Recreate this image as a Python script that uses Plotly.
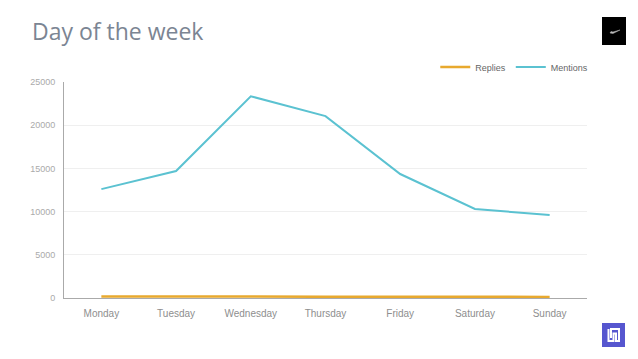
import plotly.graph_objects as go

days = ["Monday", "Tuesday", "Wednesday", "Thursday", "Friday", "Saturday", "Sunday"]
replies = [180, 200, 170, 140, 110, 120, 130]
mentions = [12600, 14700, 23350, 21050, 14350, 10300, 9600]
y_ticks = [0, 5000, 10000, 15000, 20000, 25000]

# plot area in pixels: x 64..587, y 82..298
PL, PR, PT, PB = 64, 587, 82, 298
PW, PH = PR - PL, PB - PT


def px(x):
    return (x - PL) / PW


def py(y):
    return (PB - y) / PH


def path(points):
    return "M " + " L ".join(f"{px(a):.5f},{py(b):.5f}" for a, b in points)


fig = go.Figure()
fig.add_trace(go.Scatter(x=days, y=replies, name="Replies", mode="lines",
                         line=dict(color="#e8a92e", width=2.5)))
fig.add_trace(go.Scatter(x=days, y=mentions, name="Mentions", mode="lines",
                         line=dict(color="#5bc2d1", width=2)))

fig.update_layout(
    width=638, height=359,
    margin=dict(l=PL, r=638 - PR, t=PT, b=359 - PB),
    paper_bgcolor="white", plot_bgcolor="white",
    showlegend=True,
    legend=dict(orientation="h", x=1.012, xanchor="right", y=py(67), yanchor="middle",
                font=dict(family="Liberation Sans, Arial", size=9, color="#666"),
                itemwidth=30, bgcolor="rgba(0,0,0,0)"),
    title=dict(text="Day of the week", x=32 / 638, xanchor="left", y=1 - 32 / 359, yanchor="middle",
               font=dict(family="Open Sans", size=23, color="#7b8593")),
    xaxis=dict(range=[-0.5, 6.5], showgrid=False, showline=True, linecolor="#aaa", linewidth=1,
               tickfont=dict(family="Liberation Sans, Arial", size=10, color="#8e8e8e"),
               ticks="", ticklen=0, ticklabelstandoff=6),
    yaxis=dict(range=[0, 25000], tickvals=y_ticks, tickformat="d", showgrid=True, gridcolor="#efefef",
               showline=True, linecolor="#aaa", linewidth=1, zeroline=False,
               tickfont=dict(family="Liberation Sans, Arial", size=9, color="#aaa"),
               ticks="", ticklabelstandoff=6),
    shapes=[
        dict(type="rect", xref="paper", yref="paper", x0=px(602), x1=px(626),
             y0=py(45), y1=py(17),
             fillcolor="black", line=dict(width=0), layer="above"),
        dict(type="path", xref="paper", yref="paper",
             path=path([(610, 33), (613, 33.5), (620, 30), (613, 32), (611, 31.5)]) + " Z",
             fillcolor="#bbb", line=dict(color="#bbb", width=0.5), layer="above"),
        dict(type="rect", xref="paper", yref="paper", x0=px(602), x1=px(625),
             y0=py(347), y1=py(323),
             fillcolor="#5656cf", line=dict(width=0), layer="above"),
        dict(type="path", xref="paper", yref="paper",
             path=path([(608.5, 329), (608.5, 341), (613.5, 341), (613.5, 333.5),
                        (616, 333.5), (616, 341), (619, 341), (619, 329),
                        (611, 329), (611, 338)]),
             line=dict(color="white", width=2), layer="above"),
    ],
)

fig.write_html("out.html", post_script="document.body.style.margin='0';",
               config={"displayModeBar": False})
